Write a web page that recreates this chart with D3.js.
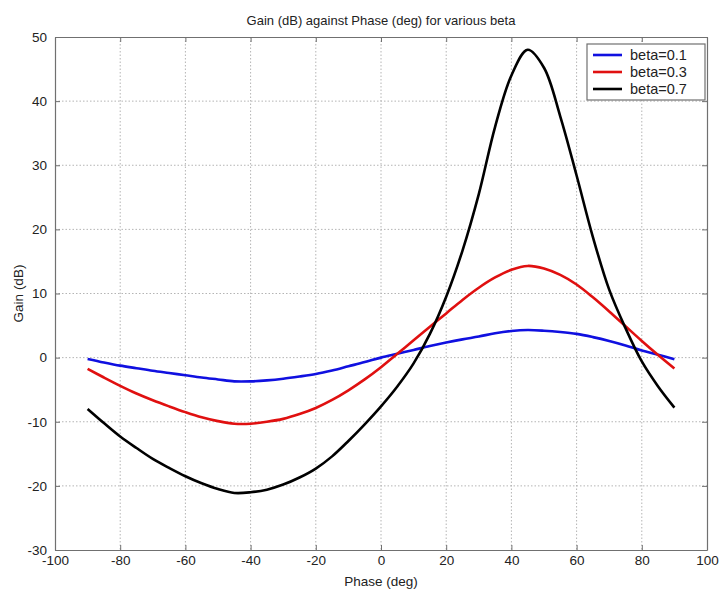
<!DOCTYPE html>
<html>
<head>
<meta charset="utf-8">
<script src="https://cdn.jsdelivr.net/npm/d3@7"></script>
<style>
  body { margin: 0; background: #fff; }
  text { font-family: "Liberation Sans", Arial, sans-serif; fill: #222; }
</style>
</head>
<body>
<div id="chart"></div>
<script>
// Phase samples (deg), every 5 degrees
const phase = [-90, -85, -80, -75, -70, -65, -60, -55, -50, -45, -40, -35, -30, -25, -20, -15, -10, -5,
    0, 5, 10, 15, 20, 25, 30, 35, 40, 45, 50, 55, 60, 65, 70, 75, 80, 85, 90];

// Gain (dB)
const gainBeta01 = [-0.2, -0.75, -1.25, -1.65, -2.05, -2.4, -2.75, -3.1, -3.4, -3.7, -3.7, -3.55, -3.3, -2.95, -2.55, -2.0, -1.35, -0.7,
    0.0, 0.6, 1.2, 1.8, 2.35, 2.85, 3.3, 3.8, 4.15, 4.3, 4.2, 4.0, 3.7, 3.2, 2.6, 1.9, 1.1, 0.45, -0.25];
const gainBeta03 = [-1.75, -3.1, -4.4, -5.6, -6.65, -7.6, -8.5, -9.3, -9.9, -10.3, -10.3, -10.0, -9.55, -8.8, -7.85, -6.6, -5.1, -3.4,
    -1.5, 0.6, 2.7, 4.8, 6.9, 9.0, 10.9, 12.5, 13.7, 14.3, 13.9, 12.9, 11.4, 9.4, 7.2, 4.9, 2.6, 0.4, -1.7];
const gainBeta07 = [-8.0, -10.2, -12.3, -14.1, -15.8, -17.2, -18.5, -19.6, -20.5, -21.1, -21.0, -20.6, -19.8, -18.7, -17.3, -15.4, -13.0, -10.4,
    -7.6, -4.5, -0.9, 3.7, 9.5, 16.7, 25.5, 36.0, 44.0, 48.0, 45.2, 37.6, 28.4, 18.8, 10.6, 4.6, -0.6, -4.5, -7.8];

const seriesNames = ["beta=0.1", "beta=0.3", "beta=0.7"];
const seriesColors = ["#1010e0", "#e01010", "#000000"];

const xTicks = [-100, -80, -60, -40, -20, 0, 20, 40, 60, 80, 100];
const yTicks = [-30, -20, -10, 0, 10, 20, 30, 40, 50];

const width = 721, height = 590;
const margin = { top: 37, right: 14, bottom: 40, left: 55 };
const plotW = width - margin.left - margin.right;
const plotH = height - margin.top - margin.bottom;

const svg = d3.select("#chart")
    .append("svg")
    .attr("width", width)
    .attr("height", height);

const x = d3.scaleLinear().domain([-100, 100]).range([0, plotW]);
const y = d3.scaleLinear().domain([-30, 50]).range([plotH, 0]);

const g = svg.append("g")
    .attr("transform", `translate(${margin.left},${margin.top})`);

// dotted grid
g.append("g")
    .selectAll("line")
    .data(xTicks.slice(1, -1))
    .enter()
    .append("line")
    .attr("x1", d => x(d)).attr("x2", d => x(d))
    .attr("y1", 0).attr("y2", plotH)
    .attr("stroke", "#b4b4b4")
    .attr("stroke-dasharray", "1.5,2");

g.append("g")
    .selectAll("line")
    .data(yTicks.slice(1, -1))
    .enter()
    .append("line")
    .attr("y1", d => y(d)).attr("y2", d => y(d))
    .attr("x1", 0).attr("x2", plotW)
    .attr("stroke", "#b4b4b4")
    .attr("stroke-dasharray", "1.5,2");

// axes with inward ticks (matlab style), plain hyphen for minus
const axisColor = "#707070";
const fmt = d => String(d);
const xAxis = d3.axisBottom(x).tickValues(xTicks).tickFormat(fmt).tickSizeInner(-5).tickSizeOuter(0).tickPadding(8);
const yAxis = d3.axisLeft(y).tickValues(yTicks).tickFormat(fmt).tickSizeInner(-5).tickSizeOuter(0).tickPadding(8);

const gx = g.append("g").attr("transform", `translate(0,${plotH})`).call(xAxis);
const gy = g.append("g").call(yAxis);
const gTop = g.append("g").call(d3.axisTop(x).tickValues(xTicks).tickSizeInner(-5).tickSizeOuter(0).tickFormat(""));
const gRight = g.append("g").attr("transform", `translate(${plotW},0)`)
    .call(d3.axisRight(y).tickValues(yTicks).tickSizeInner(-5).tickSizeOuter(0).tickFormat(""));

[gx, gy, gTop, gRight].forEach(a => {
    a.select(".domain").attr("stroke", axisColor).attr("stroke-width", 1.2);
    a.selectAll(".tick line").attr("stroke", axisColor);
    a.selectAll(".tick text").style("font-size", "13.5px").attr("fill", "#222");
});
gx.selectAll(".tick text").attr("dy", "0.5em");

// curves
const seriesData = [gainBeta01, gainBeta03, gainBeta07];
const line = d3.line()
    .x(d => x(d[0]))
    .y(d => y(d[1]))
    .curve(d3.curveCatmullRom.alpha(0.5));

seriesData.forEach((vals, i) => {
    g.append("path")
        .datum(phase.map((p, k) => [p, vals[k]]))
        .attr("fill", "none")
        .attr("stroke", seriesColors[i])
        .attr("stroke-width", 2.6)
        .attr("stroke-linejoin", "round")
        .attr("d", line);
});

// title and labels
svg.append("text")
    .attr("x", margin.left + plotW / 2)
    .attr("y", 25)
    .attr("text-anchor", "middle")
    .style("font-size", "13px")
    .text("Gain (dB) against Phase (deg) for various beta");

svg.append("text")
    .attr("x", margin.left + plotW / 2)
    .attr("y", 586)
    .attr("text-anchor", "middle")
    .style("font-size", "13.5px")
    .text("Phase (deg)");

svg.append("text")
    .attr("transform", `translate(23,${margin.top + plotH / 2}) rotate(-90)`)
    .attr("text-anchor", "middle")
    .style("font-size", "13.5px")
    .text("Gain (dB)");

// legend
const legend = g.append("g").attr("transform", `translate(${plotW - 120},7)`);
legend.append("rect")
    .attr("width", 118).attr("height", 56)
    .attr("fill", "#fff")
    .attr("stroke", axisColor)
    .attr("stroke-width", 1.2);

seriesNames.forEach((name, i) => {
    const ly = 11 + i * 17;
    legend.append("line")
        .attr("x1", 6).attr("x2", 35)
        .attr("y1", ly).attr("y2", ly)
        .attr("stroke", seriesColors[i])
        .attr("stroke-width", 2.6);
    legend.append("text")
        .attr("x", 43).attr("y", ly)
        .attr("dy", "0.35em")
        .style("font-size", "14.5px")
        .text(name);
});
</script>
</body>
</html>
